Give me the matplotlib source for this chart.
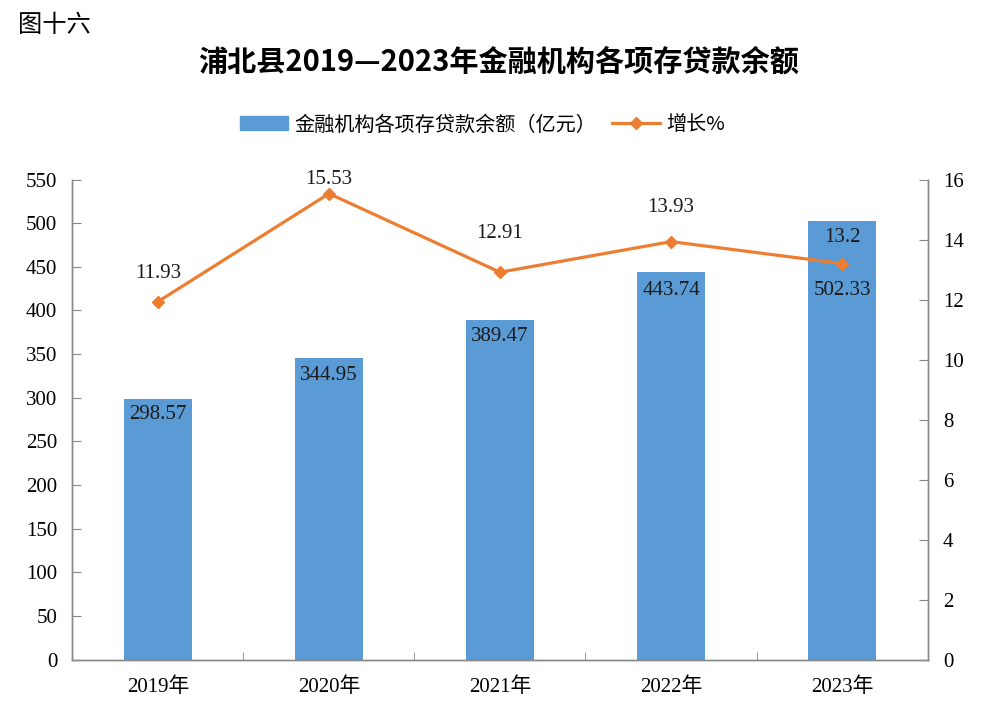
import matplotlib
matplotlib.use("Agg")
import matplotlib.pyplot as plt
from matplotlib.lines import Line2D
from matplotlib.patches import Patch

# data
years = ["2019年", "2020年", "2021年", "2022年", "2023年"]
loans = [298.57, 344.95, 389.47, 443.74, 502.33]
growth = [11.93, 15.53, 12.91, 13.93, 13.2]
growth_txt = ["11.93", "15.53", "12.91", "13.93", "13.2"]
left_ticks = list(range(0, 551, 50))
right_ticks = list(range(0, 17, 2))

# label placement (pixels), like the hand-moved labels of the original
bar_label_dy = [-16, -17, -17, -18, -69]
line_label_dy = [28, 14, 39, 34, 26]

BAR = "#5B9BD5"
LINE = "#ED7D31"
GRAY = "#898989"
TXT = "#1a1a1a"
NUM = ["Liberation Serif", "Noto Sans CJK SC"]
CJK = ["Noto Sans CJK SC", "DejaVu Sans"]

plt.rcParams['font.family'] = NUM

fig = plt.figure(figsize=(9.97, 7.01), dpi=100)
ax = fig.add_axes([0.0727, 0.0592, 0.8576, 0.6847])
ax2 = ax.twinx()

x = list(range(len(years)))
ax.bar(x, loans, width=0.4, color=BAR, zorder=2)
ax.set_xlim(-0.5, len(years) - 0.5)
ax.set_ylim(0, 550)
ax.set_yticks(left_ticks)
ax.set_xticks(x)
ax.set_xticklabels(years, fontsize=15)
ax.set_xticks([i + 0.5 for i in range(-1, len(years))], minor=True)
ax.tick_params(axis='x', which='major', length=0, pad=13)
ax.tick_params(axis='x', which='minor', direction='in', length=6, color=GRAY)
ax.tick_params(axis='y', direction='in', length=6.5, color=GRAY, labelsize=15, pad=11)

for i, v in enumerate(loans):
    ax.annotate(f"{v:.2f}", (i, v), xytext=(0, bar_label_dy[i]), textcoords='offset pixels',
                ha='center', va='center', fontsize=15, color=TXT, zorder=3)

ax2.plot(x, growth, color=LINE, lw=2.3, marker='D', ms=6.5, zorder=4)
ax2.set_ylim(0, 16)
ax2.set_yticks(right_ticks)
ax2.tick_params(axis='y', direction='in', length=6.5, color=GRAY, labelsize=15, pad=11)
for i, (v, t) in enumerate(zip(growth, growth_txt)):
    ax2.annotate(t, (i, v), xytext=(0, line_label_dy[i]), textcoords='offset pixels',
                 ha='center', va='center', fontsize=15, color=TXT)

for a in (ax, ax2):
    a.spines['top'].set_visible(False)
    for s in ('left', 'right', 'bottom'):
        a.spines[s].set_color(GRAY)
        a.spines[s].set_linewidth(1)

fig.text(0.018, 0.964, "图十六", fontsize=17.5, family=CJK, va='center', ha='left')
fig.text(0.5, 0.9116, "浦北县2019—2023年金融机构各项存贷款余额", fontsize=21, fontweight='bold',
         family=CJK, ha='center', va='center')

handles = [Patch(color=BAR), Line2D([], [], color=LINE, lw=2.3, marker='D', ms=6.5)]
fig.legend(handles, ["金融机构各项存贷款余额（亿元）", "增长%"], loc='center',
           bbox_to_anchor=(0.484, 0.8217), ncol=2, frameon=False,
           prop={'family': CJK, 'size': 14.5}, handlelength=2.4, columnspacing=0.8,
           handletextpad=0.3, handleheight=0.7)

fig.savefig("out.png", dpi=100)
